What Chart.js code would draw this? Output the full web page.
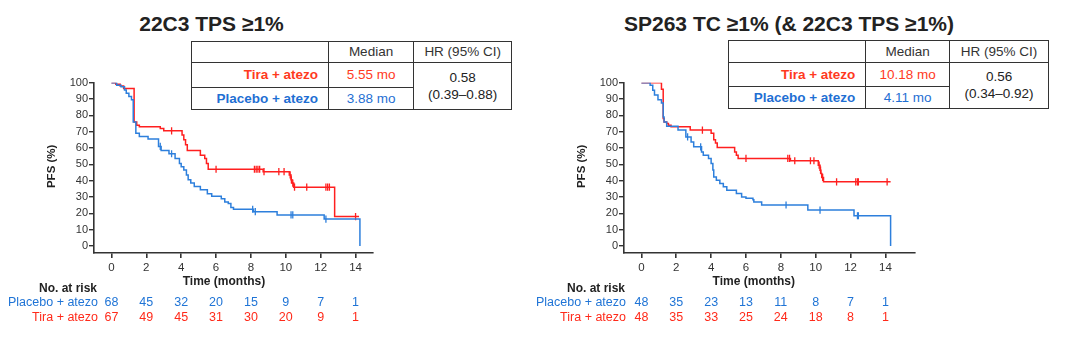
<!DOCTYPE html>
<html>
<head>
<meta charset="utf-8">
<script src="https://cdn.jsdelivr.net/npm/chart.js@4.4.1/dist/chart.umd.min.js"></script>
<style>
  html, body { margin:0; padding:0; background:#fff; }
  body { width:1080px; height:357px; position:relative; overflow:hidden; font-family:"Liberation Sans", Arial, sans-serif; }
  .cv { position:absolute; top:0; height:357px; }
  .title { position:absolute; top:12px; font-weight:bold; font-size:21px; color:#222; white-space:nowrap; transform:translateX(-50%); }
  table.stat { position:absolute; border-collapse:collapse; font-size:13.5px; color:#333; }
  table.stat td { border:1.4px solid #333; padding:0; text-align:center; white-space:nowrap; }
  table.stat td.lab { text-align:right; padding-right:10px; font-weight:bold; }
  .red { color:#ff3a1e; }
  .blue { color:#1f6fd3; }
  td.hr { line-height:17.3px; color:#222; }
</style>
</head>
<body>
<div class="title" style="left:211.5px">22C3 TPS ≥1%</div>
<div class="title" style="left:789px">SP263 TC ≥1% (&amp; 22C3 TPS ≥1%)</div>

<table class="stat" style="left:190.7px; top:40.7px; width:321.6px;">
  <tr style="height:21.6px"><td style="width:137.6px"></td><td style="width:85.7px">Median</td><td style="width:98.3px">HR (95% CI)</td></tr>
  <tr style="height:24.4px"><td class="lab red">Tira + atezo</td><td class="red">5.55 mo</td><td class="hr" rowspan="2">0.58<br>(0.39–0.88)</td></tr>
  <tr style="height:22.3px"><td class="lab blue">Placebo + atezo</td><td class="blue">3.88 mo</td></tr>
</table>

<table class="stat" style="left:728.3px; top:40px; width:320.7px;">
  <tr style="height:21.7px"><td style="width:137.4px"></td><td style="width:84.3px">Median</td><td style="width:99px">HR (95% CI)</td></tr>
  <tr style="height:24.3px"><td class="lab red">Tira + atezo</td><td class="red">10.18 mo</td><td class="hr" rowspan="2">0.56<br>(0.34–0.92)</td></tr>
  <tr style="height:22.3px"><td class="lab blue">Placebo + atezo</td><td class="blue">4.11 mo</td></tr>
</table>

<canvas id="cL" class="cv" style="left:0; width:520px" width="520" height="357"></canvas>
<canvas id="cR" class="cv" style="left:520px; width:560px" width="560" height="357"></canvas>

<script>
// ---------- data ----------
const timeTicks = [0, 2, 4, 6, 8, 10, 12, 14];
const pfsTicks = [0, 10, 20, 30, 40, 50, 60, 70, 80, 90, 100];
const groupNames = ["Placebo + atezo", "Tira + atezo"];

// Left panel: 22C3 TPS >=1%
const leftTiraT = [0, 0.25, 0.5, 0.7, 1.3, 1.45, 1.6, 2.8, 3.0, 4.05, 4.15, 4.25, 4.35, 5.1, 5.35, 5.45, 5.55, 8.7, 10.2, 10.3, 10.35, 10.45, 12.8, 14.2];
const leftTiraS = [100, 99, 98, 96.5, 76, 74, 73, 72, 70.5, 68, 65, 62, 58.5, 55.5, 53.5, 50.5, 47, 45.5, 43.5, 40.5, 38.5, 36, 18, 18];
const leftTiraCensT = [3.45, 6.0, 8.2, 8.3, 8.4, 8.5, 8.75, 9.6, 9.9, 10.25, 10.32, 10.4, 10.5, 11.2, 12.3, 12.4, 12.5, 14.0];
const leftTiraCensS = [70.5, 47, 47, 47, 47, 47, 45.5, 45.5, 45.5, 43.5, 40.5, 38.5, 36, 36, 36, 36, 36, 18];

const leftPlacT = [0, 0.3, 0.55, 0.75, 0.85, 1.0, 1.15, 1.25, 1.4, 1.6, 2.1, 2.7, 2.85, 3.3, 3.65, 3.9, 4.0, 4.15, 4.3, 4.4, 4.55, 4.75, 5.1, 5.5, 5.75, 6.3, 6.5, 6.7, 6.85, 7.0, 8.15, 9.5, 12.2, 14.25];
const leftPlacS = [100, 98.5, 97.5, 95.5, 93.5, 91.5, 89.5, 76, 69, 67, 65.5, 61, 58.5, 56.5, 53.5, 50.5, 48.5, 46.5, 43.5, 40.5, 38.5, 36.5, 34.5, 32, 30.5, 29, 27, 26, 23.5, 22.5, 21, 19, 16.5, 0];
const leftPlacCensT = [2.8, 3.45, 8.1, 8.25, 10.3, 10.4, 12.3];
const leftPlacCensS = [61, 56.5, 22.5, 21, 19, 19, 16.5];

const leftPlacRisk = [68, 45, 32, 20, 15, 9, 7, 1];
const leftTiraRisk = [67, 49, 45, 31, 30, 20, 9, 1];

// Right panel: SP263 TC >=1% (& 22C3 TPS >=1%)
const rightTiraT = [0, 1.15, 1.25, 1.3, 1.45, 1.55, 1.7, 2.8, 4.0, 4.15, 4.25, 4.35, 5.35, 5.45, 5.55, 8.55, 10.15, 10.25, 10.3, 10.35, 10.45, 14.3];
const rightTiraS = [100, 96, 78, 76, 75, 74, 73, 71, 69, 65, 63, 60.3, 57.6, 55.6, 53.6, 52.2, 49.5, 46.4, 44.4, 42, 39.3, 39.3];
const rightTiraCensT = [3.5, 6.0, 8.4, 8.5, 8.8, 9.7, 9.9, 10.2, 10.28, 10.4, 11.2, 12.3, 12.4, 12.45, 14.1];
const rightTiraCensS = [71, 53.6, 53.6, 53.6, 52.2, 52.2, 52.2, 49.5, 46.4, 42, 39.3, 39.3, 39.3, 39.3, 39.3];

const rightPlacT = [0, 0.5, 0.65, 0.75, 0.95, 1.15, 1.25, 1.3, 1.45, 2.1, 2.55, 2.85, 3.0, 3.45, 3.55, 3.85, 4.0, 4.1, 4.15, 4.3, 4.5, 4.7, 4.9, 5.45, 5.75, 6.0, 6.4, 6.45, 6.9, 9.55, 12.2, 14.3];
const rightPlacS = [100, 98.4, 95.3, 92.5, 89.6, 87.5, 79, 76, 73.3, 71, 66.8, 63.7, 60.7, 57.6, 55.6, 53.6, 50.5, 46.6, 42.3, 40.3, 38.2, 36.2, 34.2, 32.2, 30, 29.3, 28.3, 26.9, 25.1, 22, 18.5, 0];
const rightPlacCensT = [2.65, 3.4, 8.3, 10.25, 12.4, 12.45];
const rightPlacCensS = [66.8, 60.7, 25.1, 22, 18.5, 18.5];

const rightPlacRisk = [48, 35, 23, 13, 11, 8, 7, 1];
const rightTiraRisk = [48, 35, 33, 25, 24, 18, 8, 1];

// ---------- styling ----------
const RED = '#ff1f1f', BLUE = '#2d7fdc';
const RED_TXT = '#ff2a1a', BLUE_TXT = '#1f74d6';
const INK = '#333';
const FONT = '"Liberation Sans", Arial, sans-serif';

function pts(ts, ss) { return ts.map((t, i) => ({ x: t, y: ss[i] })); }

const extras = {
  id: 'kmExtras',
  afterDraw(chart, args, o) {
    const ctx = chart.ctx, xs = chart.scales.x, ys = chart.scales.y;
    const ca = chart.chartArea;
    ctx.save();
    ctx.fillStyle = '#222';
    ctx.font = 'bold 11.5px ' + FONT;
    ctx.textAlign = 'center'; ctx.textBaseline = 'middle';
    ctx.translate(ca.left - 42, (ys.getPixelForValue(0) + ys.getPixelForValue(100)) / 2 + 2);
    ctx.rotate(-Math.PI / 2);
    ctx.fillText('PFS (%)', 0, 0);
    ctx.restore();
    ctx.save();
    ctx.fillStyle = '#222';
    ctx.font = 'bold 12px ' + FONT;
    ctx.textAlign = 'center'; ctx.textBaseline = 'middle';
    ctx.fillText('Time (months)', xs.getPixelForValue(6.45), ca.bottom + 29);
    ctx.textAlign = 'right';
    ctx.fillText('No. at risk', ca.left + o.labelShift, ca.bottom + 36);
    ctx.font = '12.5px ' + FONT;
    ctx.fillStyle = BLUE_TXT;
    ctx.fillText(groupNames[0], ca.left + o.labelShift + 1, ca.bottom + 50);
    ctx.fillStyle = RED_TXT;
    ctx.fillText(groupNames[1], ca.left + o.labelShift + 1, ca.bottom + 65);
    ctx.textAlign = 'center';
    timeTicks.forEach((t, i) => {
      const px = xs.getPixelForValue(t);
      ctx.fillStyle = BLUE_TXT; ctx.fillText(String(o.plac[i]), px, ca.bottom + 50);
      ctx.fillStyle = RED_TXT; ctx.fillText(String(o.tira[i]), px, ca.bottom + 65);
    });
    ctx.restore();
  }
};

function makeChart(id, cfg) {
  const curve = (data, color) => ({
    data, showLine: true, stepped: 'before', borderColor: color, backgroundColor: color,
    borderWidth: 1.5, pointRadius: 0, pointHoverRadius: 0
  });
  const cens = (data, color) => ({
    data, showLine: false, pointStyle: 'line', rotation: 90, pointRadius: 3.6,
    borderColor: color, backgroundColor: color, pointBorderWidth: 1.3, borderWidth: 1.3
  });
  return new Chart(document.getElementById(id), {
    type: 'scatter',
    data: {
      datasets: [
        curve(pts(cfg.placT, cfg.placS), BLUE),
        cens(pts(cfg.placCT, cfg.placCS), BLUE),
        curve(pts(cfg.tiraT, cfg.tiraS), RED),
        cens(pts(cfg.tiraCT, cfg.tiraCS), RED)
      ]
    },
    options: {
      responsive: false, animation: false, events: [],
      layout: { padding: { left: cfg.padL, right: cfg.padR, top: 82.7, bottom: 79 } },
      plugins: { legend: { display: false }, tooltip: { enabled: false },
        kmExtras: { plac: cfg.placRisk, tira: cfg.tiraRisk, labelShift: cfg.labelShift } },
      scales: {
        x: {
          type: 'linear', min: -1, max: cfg.xMax,
          afterBuildTicks: s => { s.ticks = timeTicks.map(v => ({ value: v })); },
          afterFit: s => { s.height = 25; },
          border: { display: true, color: INK, width: 1.6 },
          grid: { display: true, drawOnChartArea: false, drawTicks: true, tickLength: 5, color: INK, lineWidth: 1.6 },
          ticks: { color: '#333', font: { family: FONT, size: 11.5 }, padding: 3, maxRotation: 0, autoSkip: false }
        },
        y: {
          type: 'linear', min: -4.3, max: 100,
          afterBuildTicks: s => { s.ticks = pfsTicks.map(v => ({ value: v })); },
          afterFit: s => { s.width = 40; },
          border: { display: true, color: INK, width: 1.6 },
          grid: { display: true, drawOnChartArea: false, drawTicks: true, tickLength: 5, color: INK, lineWidth: 1.4 },
          ticks: { color: '#333', font: { family: FONT, size: 11 }, padding: 1, autoSkip: false }
        }
      }
    },
    plugins: [extras]
  });
}

makeChart('cL', {
  placT: leftPlacT, placS: leftPlacS, placCT: leftPlacCensT, placCS: leftPlacCensS,
  tiraT: leftTiraT, tiraS: leftTiraS, tiraCT: leftTiraCensT, tiraCS: leftTiraCensS,
  placRisk: leftPlacRisk, tiraRisk: leftTiraRisk,
  padL: 54, padR: 147, xMax: 15, labelShift: 3
});
makeChart('cR', {
  placT: rightPlacT, placS: rightPlacS, placCT: rightPlacCensT, placCS: rightPlacCensS,
  tiraT: rightTiraT, tiraS: rightTiraS, tiraCT: rightTiraCensT, tiraCS: rightTiraCensS,
  placRisk: rightPlacRisk, tiraRisk: rightTiraRisk,
  padL: 64, padR: 165, xMax: 15.7, labelShift: 1
});
</script>
</body>
</html>
